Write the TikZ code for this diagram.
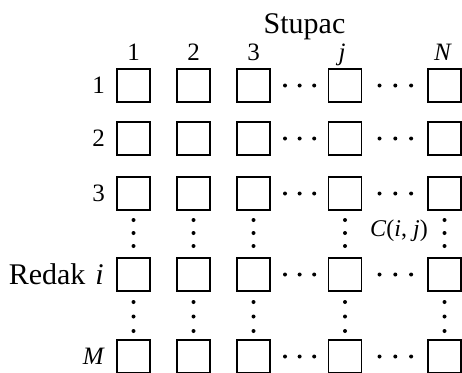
\documentclass[tikz,border=0pt]{standalone}
\usepackage{fontspec}
\setmainfont{Liberation Serif}
\usetikzlibrary{arrows.meta}

\begin{document}
\begin{tikzpicture}[x=1pt,y=-1pt,
	cell/.style={draw,line width=1.8pt,minimum size=33pt,inner sep=0pt,outer sep=0pt},
	word/.style={inner sep=0pt,font=\fontsize{30}{36}\selectfont},
	num/.style={inner sep=0pt,font=\fontsize{25}{30}\selectfont},
	hdots/.style={draw,line width=4pt,line cap=round,dash pattern=on 0pt off 14.6pt,shorten <=15pt,shorten >=13pt},
	vdots/.style={draw,line width=4pt,line cap=round,dash pattern=on 0pt off 13pt,shorten <=10pt,shorten >=11pt}]
	\useasboundingbox (0,0) rectangle (462,372);

	\begin{scope}[every node/.style={cell}]
		\node (r1c1) at (133.5,85.5) {};
		\node (r1c2) at (193.5,85.5) {};
		\node (r1c3) at (253.5,85.5) {};
		\node (r1cj) at (345,85.5) {};
		\node (r1cN) at (444.5,85.5) {};
		\node (r2c1) at (133.5,138.5) {};
		\node (r2c2) at (193.5,138.5) {};
		\node (r2c3) at (253.5,138.5) {};
		\node (r2cj) at (345,138.5) {};
		\node (r2cN) at (444.5,138.5) {};
		\node (r3c1) at (133.5,193.5) {};
		\node (r3c2) at (193.5,193.5) {};
		\node (r3c3) at (253.5,193.5) {};
		\node (r3cj) at (345,193.5) {};
		\node (r3cN) at (444.5,193.5) {};
		\node (ric1) at (133.5,274.5) {};
		\node (ric2) at (193.5,274.5) {};
		\node (ric3) at (253.5,274.5) {};
		\node (ricj) at (345,274.5) {};
		\node (ricN) at (444.5,274.5) {};
		\node (rMc1) at (133.5,356.5) {};
		\node (rMc2) at (193.5,356.5) {};
		\node (rMc3) at (253.5,356.5) {};
		\node (rMcj) at (345,356.5) {};
		\node (rMcN) at (444.5,356.5) {};
	\end{scope}

	% labels
	\node [word,anchor=base] (stupac) at (304.5,33) {Stupac};
	\node [num,anchor=base] (k1) at (133.5,60) {1};
	\node [num,anchor=base] (k2) at (193.5,60) {2};
	\node [num,anchor=base] (k3) at (253.5,60) {3};
	\node [num,anchor=base] (kj) at (342,60) {\textit{j}};
	\node [num,anchor=base] (kN) at (443,60) {\textit{N}};
	\node [num,anchor=east] (z1) at (105,85.5) {1};
	\node [num,anchor=east] (z2) at (105,138.5) {2};
	\node [num,anchor=east] (z3) at (105,193.5) {3};
	\node [word,anchor=east] (zi) at (104,274.5) {Redak\hspace{10pt}\textit{i}};
	\node [num,anchor=east] (zM) at (105,356.5) {\textit{M}};
	\node [inner sep=0pt,anchor=base,font=\fontsize{24}{29}\selectfont] (cij) at (399,236) {\textit{C}(\textit{i}, \textit{j})};

	\begin{scope}[every edge/.style={hdots}]
		\path (r1c3) edge (r1cj);
		\path (r2c3) edge (r2cj);
		\path (r3c3) edge (r3cj);
		\path (ric3) edge (ricj);
		\path (rMc3) edge (rMcj);
	\end{scope}
	\begin{scope}[every edge/.style={hdots,dash pattern=on 0pt off 15.8pt,shorten <=18pt,shorten >=16pt}]
		\path (r1cj) edge (r1cN);
		\path (r2cj) edge (r2cN);
		\path (r3cj) edge (r3cN);
		\path (ricj) edge (ricN);
		\path (rMcj) edge (rMcN);
	\end{scope}
	\begin{scope}[every edge/.style={vdots}]
		\path (r3c1) edge (ric1);
		\path (r3c2) edge (ric2);
		\path (r3c3) edge (ric3);
		\path (r3cj) edge (ricj);
		\path (r3cN) edge (ricN);
	\end{scope}
	\begin{scope}[every edge/.style={vdots,dash pattern=on 0pt off 14.5pt,shorten <=11pt,shorten >=8pt}]
		\path (ric1) edge (rMc1);
		\path (ric2) edge (rMc2);
		\path (ric3) edge (rMc3);
		\path (ricj) edge (rMcj);
		\path (ricN) edge (rMcN);
	\end{scope}
\end{tikzpicture}
\end{document}
